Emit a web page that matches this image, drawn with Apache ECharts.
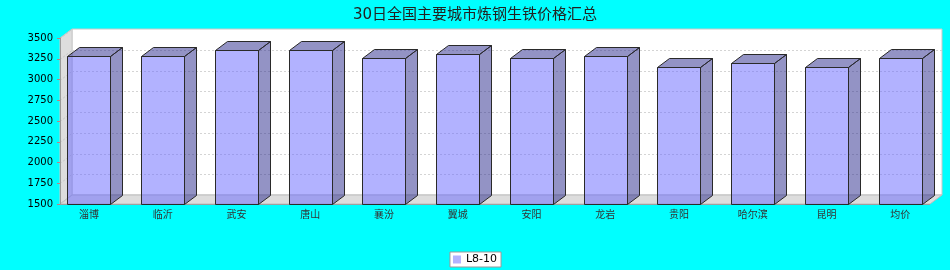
<!DOCTYPE html>
<html>
<head>
<meta charset="utf-8">
<script src="https://cdn.jsdelivr.net/npm/echarts@6/dist/echarts.min.js"></script>
<style>html,body{margin:0;padding:0;background:#00ffff;}#c{width:950px;height:270px;}</style>
</head>
<body>
<div id="c"></div>
<script>
const titleText = '30日全国主要城市炼钢生铁价格汇总';
const seriesName = 'L8-10';
const categories = ['淄博','临沂','武安','唐山','襄汾','翼城','安阳','龙岩','贵阳','哈尔滨','昆明','均价'];
const values = [3280, 3280, 3350, 3350, 3260, 3310, 3260, 3280, 3150, 3200, 3150, 3260];
const yTicks = [1500, 1750, 2000, 2250, 2500, 2750, 3000, 3250, 3500];

const DX = 12, DY = 9;       // 3D depth offset
const AXIS_SHIFT = 8;        // front plane left edge relative to grid left
const BAR_HALF = 21.5;

const chart = echarts.init(document.getElementById('c'), null, {renderer: 'canvas'});

function bgRender(params, api) {
  const cs = params.coordSys;
  const yMin = yTicks[0], yMax = yTicks[yTicks.length - 1];
  const fl = cs.x + AXIS_SHIFT;
  const fr = cs.x + cs.width - DX + 5;
  const ft = api.coord([0, yMax])[1];
  const fb = api.coord([0, yMin])[1];
  const children = [];
  children.push({type: 'rect', shape: {x: fl + DX, y: ft - DY, width: fr - fl, height: fb - ft},
    style: {fill: '#ffffff', stroke: '#c8c8c8', lineWidth: 1}});
  children.push({type: 'polygon', shape: {points: [[fl, ft], [fl + DX, ft - DY], [fl + DX, fb - DY], [fl, fb]]},
    style: {fill: '#dddddd', stroke: '#c8c8c8', lineWidth: 1}});
  children.push({type: 'polygon', shape: {points: [[fl, fb], [fl + DX, fb - DY], [fr + DX, fb - DY], [fr, fb]]},
    style: {fill: '#dddddd', stroke: '#bdbdbd', lineWidth: 1}});
  yTicks.forEach(function (t) {
    const y = Math.round(api.coord([0, t])[1]) + 0.5;
    if (t !== yMin && t !== yMax) {
      children.push({type: 'line', shape: {x1: fl + DX, y1: y - DY, x2: fr + DX, y2: y - DY},
        style: {stroke: '#d4d4d4', lineWidth: 1, lineDash: [2, 2]}});
    }
    children.push({type: 'line', shape: {x1: fl, y1: y, x2: fl + DX, y2: y - DY},
      style: {stroke: '#c4c4c4', lineWidth: 1, lineDash: [2, 2]}});
  });
  children.push({type: 'line', shape: {x1: fl, y1: Math.round(fb) + 0.5, x2: fr, y2: Math.round(fb) + 0.5},
    style: {stroke: '#a0a0a0', lineWidth: 1}});
  return {type: 'group', children: children};
}

function barRender(params, api) {
  const c = api.coord([api.value(0), api.value(1)]);
  const b = api.coord([api.value(0), yTicks[0]]);
  const x0 = Math.round(c[0] - BAR_HALF) + 0.5, x1 = Math.round(c[0] + BAR_HALF) + 0.5;
  const y0 = Math.round(c[1]) + 0.5, yb = Math.round(b[1]) + 0.5;
  const stroke = '#2a2a2a';
  return {type: 'group', children: [
    {type: 'polygon', shape: {points: [[x1, y0], [x1 + DX, y0 - DY], [x1 + DX, yb - DY], [x1, yb]]},
      style: {fill: 'rgba(40,40,140,0.5)', stroke: stroke, lineWidth: 1}},
    {type: 'polygon', shape: {points: [[x0, y0], [x0 + DX, y0 - DY], [x1 + DX, y0 - DY], [x1, y0]]},
      style: {fill: 'rgba(40,40,140,0.5)', stroke: stroke, lineWidth: 1}},
    {type: 'rect', shape: {x: x0, y: y0, width: x1 - x0, height: yb - y0},
      style: {fill: 'rgba(102,102,255,0.5)', stroke: stroke, lineWidth: 1}}
  ]};
}

chart.setOption({
  backgroundColor: '#00ffff',
  animation: false,
  title: {
    text: titleText, left: 'center', top: 3,
    textStyle: {fontSize: 15, fontWeight: 'normal', color: '#222', fontFamily: 'DejaVu Sans, Noto Sans CJK SC'}
  },
  legend: {
    data: [seriesName], bottom: 3, left: 'center',
    icon: 'rect', itemWidth: 8, itemHeight: 8, itemGap: 4,
    backgroundColor: '#ffffff', borderColor: '#999', borderWidth: 1, borderRadius: 0, padding: [2, 4, 2, 3],
    textStyle: {fontSize: 11, color: '#000', fontFamily: 'DejaVu Sans'}
  },
  grid: {left: 52, right: 13, top: 38, bottom: 66},
  xAxis: {
    type: 'category', data: categories,
    axisLine: {show: false}, axisTick: {show: false},
    axisLabel: {fontSize: 10, color: '#333', margin: 5, fontFamily: 'Noto Sans CJK SC'}
  },
  yAxis: {
    type: 'value', min: 1500, max: 3500, interval: 250, offset: -8, z: 10,
    axisLine: {show: true, lineStyle: {color: '#999'}},
    axisTick: {show: true, length: 3, lineStyle: {color: '#c08080'}},
    axisLabel: {fontSize: 10, color: '#000', margin: 7, fontFamily: 'DejaVu Sans',
      formatter: function (v) { return String(v); }},
    splitLine: {show: false}
  },
  series: [
    {type: 'custom', name: 'bg', z: 1, silent: true, renderItem: bgRender, data: [[0, 1500]]},
    {type: 'custom', name: seriesName, z: 3, itemStyle: {color: '#b3b3ff'}, renderItem: barRender,
      data: values.map(function (v, i) { return [i, v]; })}
  ]
});
</script>
</body>
</html>
